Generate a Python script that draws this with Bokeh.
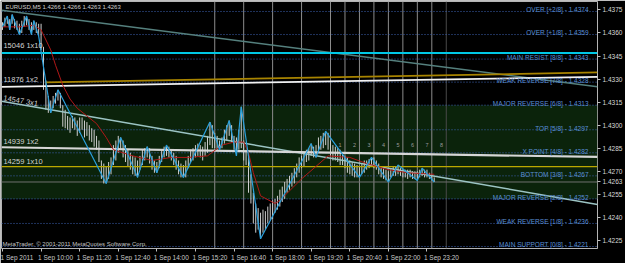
from bokeh.plotting import figure
from bokeh.models import (Range1d, LinearAxis, FixedTicker, Span, BoxAnnotation,
                          PrintfTickFormatter)
from bokeh.embed import file_html
from bokeh.resources import INLINE
from bokeh.core.properties import value

# ---------------- data ----------------
SESSION_START = "08:40"     # time of the first M5 bar
BAR_MINUTES = 5

highs = [1.4367, 1.4370, 1.4371, 1.4369, 1.4372, 1.4369, 1.4368, 1.4366, 1.4368, 1.4371,
         1.4371, 1.4369, 1.4367, 1.4368, 1.4367, 1.4366, 1.4366, 1.4351, 1.4329, 1.4319,
         1.4316, 1.4319, 1.4321, 1.4323, 1.4321, 1.4313, 1.4310, 1.4306, 1.4305, 1.4306,
         1.4305, 1.4303, 1.4305, 1.4305, 1.4303, 1.4302, 1.4300, 1.4298, 1.4297, 1.4293,
         1.4290, 1.4277, 1.4275, 1.4273, 1.4276, 1.4279, 1.4287, 1.4290, 1.4293, 1.4292,
         1.4290, 1.4287, 1.4284, 1.4282, 1.4280, 1.4279, 1.4277, 1.4280, 1.4284, 1.4285,
         1.4286, 1.4285, 1.4280, 1.4277, 1.4276, 1.4280, 1.4284, 1.4286, 1.4287, 1.4286,
         1.4284, 1.4282, 1.4280, 1.4277, 1.4275, 1.4274, 1.4277, 1.4280, 1.4284, 1.4285,
         1.4287, 1.4288, 1.4287, 1.4286, 1.4289, 1.4293, 1.4302, 1.4300, 1.4295, 1.4293,
         1.4290, 1.4292, 1.4297, 1.4300, 1.4303, 1.4300, 1.4293, 1.4292, 1.4297, 1.4312,
         1.4290, 1.4284, 1.4280, 1.4268, 1.4256, 1.4249, 1.4246, 1.4243, 1.4245, 1.4244,
         1.4247, 1.4249, 1.4251, 1.4252, 1.4254, 1.4258, 1.4260, 1.4263, 1.4265, 1.4267,
         1.4269, 1.4272, 1.4275, 1.4279, 1.4280, 1.4282, 1.4284, 1.4285, 1.4288, 1.4286,
         1.4287, 1.4292, 1.4293, 1.4295, 1.4296, 1.4295, 1.4290, 1.4287, 1.4286, 1.4285,
         1.4284, 1.4282, 1.4280, 1.4279, 1.4277, 1.4276, 1.4275, 1.4274, 1.4273, 1.4275,
         1.4277, 1.4277, 1.4278, 1.4279, 1.4279, 1.4277, 1.4275, 1.4273, 1.4272, 1.4271,
         1.4270, 1.4272, 1.4273, 1.4273, 1.4274, 1.4272, 1.4271, 1.4271, 1.4271, 1.4271,
         1.4270, 1.4270, 1.4270, 1.4271, 1.4272, 1.4271, 1.4271, 1.4269, 1.4268, 1.4266]

lows = [1.4362, 1.4364, 1.4366, 1.4362, 1.4366, 1.4363, 1.4362, 1.4359, 1.4360, 1.4364,
        1.4365, 1.4362, 1.4359, 1.4362, 1.4360, 1.4358, 1.4349, 1.4323, 1.4310, 1.4308,
        1.4308, 1.4311, 1.4314, 1.4316, 1.4311, 1.4299, 1.4298, 1.4297, 1.4295, 1.4298,
        1.4297, 1.4293, 1.4295, 1.4297, 1.4292, 1.4293, 1.4290, 1.4289, 1.4286, 1.4284,
        1.4276, 1.4265, 1.4262, 1.4262, 1.4265, 1.4268, 1.4274, 1.4277, 1.4282, 1.4284,
        1.4279, 1.4276, 1.4273, 1.4271, 1.4268, 1.4267, 1.4266, 1.4271, 1.4274, 1.4277,
        1.4279, 1.4275, 1.4271, 1.4269, 1.4269, 1.4272, 1.4276, 1.4279, 1.4280, 1.4279,
        1.4277, 1.4274, 1.4271, 1.4268, 1.4266, 1.4266, 1.4266, 1.4272, 1.4276, 1.4277,
        1.4279, 1.4280, 1.4279, 1.4277, 1.4280, 1.4282, 1.4287, 1.4285, 1.4285, 1.4284,
        1.4284, 1.4285, 1.4288, 1.4290, 1.4293, 1.4289, 1.4284, 1.4280, 1.4284, 1.4285,
        1.4277, 1.4274, 1.4256, 1.4249, 1.4236, 1.4230, 1.4232, 1.4226, 1.4230, 1.4232,
        1.4236, 1.4238, 1.4239, 1.4243, 1.4245, 1.4247, 1.4250, 1.4252, 1.4256, 1.4258,
        1.4260, 1.4262, 1.4266, 1.4269, 1.4272, 1.4273, 1.4276, 1.4277, 1.4280, 1.4279,
        1.4279, 1.4282, 1.4284, 1.4285, 1.4287, 1.4284, 1.4280, 1.4277, 1.4277, 1.4276,
        1.4274, 1.4274, 1.4272, 1.4269, 1.4268, 1.4267, 1.4266, 1.4266, 1.4266, 1.4268,
        1.4269, 1.4271, 1.4272, 1.4273, 1.4272, 1.4271, 1.4268, 1.4266, 1.4265, 1.4264,
        1.4263, 1.4266, 1.4267, 1.4267, 1.4268, 1.4267, 1.4266, 1.4266, 1.4265, 1.4266,
        1.4265, 1.4265, 1.4264, 1.4266, 1.4267, 1.4266, 1.4266, 1.4265, 1.4264, 1.4263]

# ZigZag indicator vertices (bar number, price)
zz_bars = [0, 2, 3, 4, 7, 10, 12, 13, 15, 20, 23, 43, 49, 56, 60, 64, 68, 75, 86, 90,
           94, 97, 99, 107, 128, 130, 134, 148, 153, 160, 164, 172, 174, 179]
zz_prices = [1.4364, 1.4371, 1.4362, 1.4372, 1.4359, 1.4371, 1.4359, 1.4368, 1.4358, 1.4308,
             1.4323, 1.4262, 1.4292, 1.4266, 1.4286, 1.4269, 1.4287, 1.4266, 1.4302, 1.4284,
             1.4303, 1.4280, 1.4312, 1.4226, 1.4288, 1.4279, 1.4296, 1.4266, 1.4279, 1.4263,
             1.4274, 1.4264, 1.4272, 1.4263]

# moving average (red) read at its turning points
ma_bars = [0, 7, 13, 16, 20, 22, 25, 28, 31, 39, 43, 46, 54, 62, 70, 77, 85, 91, 96, 100,
           102, 104, 107, 113, 115, 124, 135, 144, 151, 160, 168, 179]
ma_prices = [1.4364, 1.4364, 1.4365, 1.4362, 1.4349, 1.4339, 1.4326, 1.4317, 1.4311, 1.4301,
             1.4292, 1.4284, 1.4280, 1.4277, 1.4279, 1.4279, 1.4280, 1.4287, 1.4289, 1.4289,
             1.4282, 1.4269, 1.4254, 1.4249, 1.4251, 1.4265, 1.4280, 1.4279, 1.4275, 1.4271,
             1.4269, 1.4268]

# Murrey math levels
murrey_names = ["OVER [+2/8]", "OVER [+1/8]", "MAIN RESIST [8/8]", "WEAK REVERSE [7/8]",
                "MAJOR REVERSE [6/8]", "TOP [5/8]", "X POINT [4/8]", "BOTTOM [3/8]",
                "MAJOR REVERSE [2/8]", "WEAK REVERSE [1/8]", "MAIN SUPPORT [0/8]"]
murrey_levels = [1.4374, 1.4359, 1.4343, 1.4328, 1.4313, 1.4297, 1.4282, 1.4267,
                 1.4252, 1.4236, 1.4221]

# drawn trend lines: start bar, start price, end bar, end price
trend_x0 = [-0.4, -0.4, 17.8, -0.4, -0.4]
trend_y0 = [1.43748, 1.43156, 1.43278, 1.43249, 1.42856]
trend_x1 = [246.7, 246.7, 246.7, 246.7, 246.7]
trend_y1 = [1.43250, 1.42484, 1.43343, 1.43314, 1.42793]

# horizontal objects
cyan_level = 1.4347
yellow_level = 1.4273
bid_price = 1.4263

# Gann labels on the left
gann_texts = ["15046 1x10", "11876 1x2", "14547 3x1", "14939 1x2", "14259 1x10"]
gann_prices = [1.43517, 1.43295, 1.43178, 1.42894, 1.42765]

# vertical time lines
vline_times = ["16:00", "17:00", "18:00", "19:00", "20:00", "20:30", "21:00", "21:30",
               "22:00", "22:30", "23:00", "23:30", "24:00"]
count_labels = ["1", "2", "3", "4", "5", "6", "7", "8"]
count_times = ["20:30", "21:00", "21:30", "22:00", "22:30", "23:00", "23:30", "24:00"]

# axis labels
time_label_times = ["08:40", "10:00", "11:20", "12:40", "14:00", "15:20", "16:40", "18:00",
                    "19:20", "20:40", "22:00", "23:20"]
time_labels = ["1 Sep 2011", "1 Sep 10:00", "1 Sep 11:20", "1 Sep 12:40", "1 Sep 14:00",
               "1 Sep 15:20", "1 Sep 16:40", "1 Sep 18:00", "1 Sep 19:20", "1 Sep 20:40",
               "1 Sep 22:00", "1 Sep 23:20"]
price_ticks = [1.4225, 1.4240, 1.4255, 1.4270, 1.4285, 1.4300, 1.4315, 1.4330, 1.4345,
               1.4360, 1.4375]

title_text = "EURUSD,M5  1.4266 1.4266 1.4263 1.4263"
copyright_text = "MetaTrader, \u00a9 2001-2011 MetaQuotes Software Corp."


def bar_of(t):
    h, m = map(int, t.split(":"))
    h0, m0 = map(int, SESSION_START.split(":"))
    return ((h * 60 + m) - (h0 * 60 + m0)) // BAR_MINUTES


bars = list(range(len(highs)))
FONT = value("Liberation Sans")

# ---------------- figure ----------------
p = figure(width=625, height=263, output_backend="svg", toolbar_location=None,
           x_range=Range1d(-0.41, 246.7), y_range=Range1d(1.42197, 1.43805),
           x_axis_location=None, y_axis_location=None,
           background_fill_color="#000000", border_fill_color="#000000",
           min_border_left=1, min_border_top=1, min_border_right=26, min_border_bottom=12)
p.grid.visible = False
p.outline_line_color = "#b4b4b4"

# green zone between the two MAJOR REVERSE levels
p.add_layout(BoxAnnotation(bottom=murrey_levels[8], top=murrey_levels[4],
                           fill_color="#0b230b", fill_alpha=1.0, line_color=None,
                           level="underlay"))

# vertical time lines
for t in vline_times:
    col = "#4a4a4a" if t == "24:00" else "#8c8c8c"
    p.add_layout(Span(location=bar_of(t), dimension="height", line_color=col,
                      line_width=1, level="underlay"))

# murrey dotted levels
for lv in murrey_levels:
    p.add_layout(Span(location=lv, dimension="width", line_color="#3d63b4",
                      line_width=1, line_dash="1 2", level="underlay"))

# bid line
p.add_layout(Span(location=bid_price, dimension="width", line_color="#707070",
                  line_width=1, level="underlay"))

# price bars
p.segment(x0=bars, y0=lows, x1=bars, y1=highs, line_color="#cfcfcf", line_width=1)

# trend lines
trend_colors = ["#55807e", "#9cc4c4", "#a88400", "#f2f2f2", "#d6d6d6"]
trend_widths = [1.5, 1.5, 1.8, 1.8, 2.2]
p.segment(x0=trend_x0, y0=trend_y0, x1=trend_x1, y1=trend_y1,
          line_color=trend_colors, line_width=trend_widths)

# horizontal cyan / yellow objects
p.segment(x0=[-0.4], y0=[cyan_level], x1=[246.7], y1=[cyan_level],
          line_color="#00c8e6", line_width=2)
p.segment(x0=[-0.4], y0=[yellow_level], x1=[246.7], y1=[yellow_level],
          line_color="#bba800", line_width=1.3)

# moving average and zigzag
p.line(ma_bars, ma_prices, line_color="#b01818", line_width=1)
p.line(zz_bars, zz_prices, line_color="#2aa0dc", line_width=1.2)

# Murrey labels
px_per_price = 15490.0
p.text(x=[243.0] * len(murrey_levels),
       y=[lv + 1.6 / px_per_price for lv in murrey_levels],
       text=[f"{n} - {lv:.4f}" for n, lv in zip(murrey_names, murrey_levels)],
       text_font=FONT, text_font_size="6.5px", text_color="#5a8fd6",
       text_align="right", text_baseline="alphabetic")

# Gann labels
angles = [0, 0, -0.17, 0, 0]
p.text(x=[0.4] * len(gann_texts), y=gann_prices, text=gann_texts, angle=angles,
       text_font=FONT, text_font_size="7.5px", text_color="#d2d2d2",
       text_align="left", text_baseline="middle")

# counter digits near the half-hour lines
p.text(x=[bar_of(t) - 2 for t in count_times], y=[1.4287] * len(count_times),
       text=count_labels, text_font=FONT, text_font_size="5.5px", text_color="#9a9a9a",
       text_align="center", text_baseline="middle")

# title and copyright
p.text(x=[1.2], y=[1.43772], text=[title_text], text_font=FONT, text_font_size="6px",
       text_color="#d0d0d0", text_align="left", text_baseline="middle")
p.text(x=[0.0], y=[1.42224], text=[copyright_text], text_font=FONT, text_font_size="6px",
       text_color="#c4c4c4", text_align="left", text_baseline="middle")

# ---------------- axes ----------------
label_offset = 6
tick_bars = [bar_of(t) for t in time_label_times]
xaxis = LinearAxis(ticker=FixedTicker(ticks=[b + label_offset for b in tick_bars],
                                      minor_ticks=tick_bars),
                   major_label_overrides={b + label_offset: s for b, s in zip(tick_bars, time_labels)},
                   axis_line_color=None, major_tick_out=0, major_tick_in=0,
                   minor_tick_out=3, minor_tick_in=0, minor_tick_line_color="#c0c0c0",
                   major_label_standoff=2, major_label_text_color="#c8c8c8",
                   major_label_text_font="Liberation Sans", major_label_text_font_size="6.5px")
p.add_layout(xaxis, "below")

# price scale, including the current bid price
yaxis = LinearAxis(ticker=FixedTicker(ticks=price_ticks + [bid_price], minor_ticks=[]),
                   formatter=PrintfTickFormatter(format="%.4f"),
                   axis_line_color=None, major_tick_out=3, major_tick_in=0,
                   major_tick_line_color="#c0c0c0", minor_tick_out=0, minor_tick_in=0,
                   major_label_standoff=2, major_label_text_color="#d8d8d8",
                   major_label_text_font="Liberation Sans", major_label_text_font_size="6.5px")
p.add_layout(yaxis, "right")

open("out.html", "w").write(file_html(p, INLINE))
